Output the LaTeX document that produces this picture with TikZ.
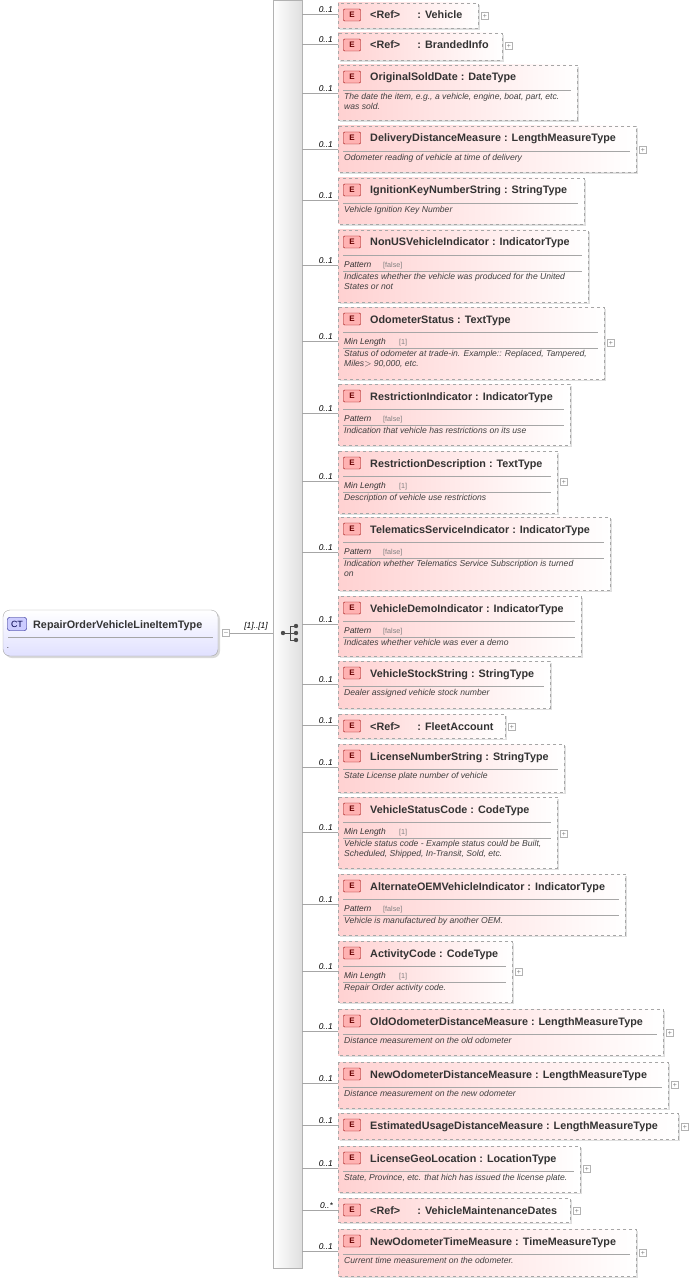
\documentclass[tikz,border=0pt]{standalone}
\usepackage{fontspec}
\setmainfont{Liberation Sans}
\begin{document}
\begin{tikzpicture}[x=1pt,y=-1pt,
  boxline/.style={draw=gray!70,dashed,line width=0.6pt},
  badge/.style={draw=red!60!black,fill=red!30,rounded corners=1pt,minimum width=17pt,minimum height=12pt,inner sep=0pt,font=\fontsize{8}{9}\selectfont\bfseries,text=red!40!black},
  ttl/.style={anchor=base west,font=\fontsize{10.8}{12}\selectfont\bfseries,text=black!80,inner sep=0pt},
  dsc/.style={anchor=north west,align=left,font=\fontsize{8.6}{10}\selectfont\itshape,text=black!75,inner sep=0pt},
  fct/.style={anchor=base west,font=\fontsize{8.4}{9}\selectfont\itshape,text=black!80,inner sep=0pt},
  fv/.style={anchor=base west,font=\fontsize{7.2}{8}\selectfont,text=gray,inner sep=0pt},
  card/.style={anchor=south east,font=\fontsize{8.4}{9}\selectfont\itshape,inner sep=1pt},
  conn/.style={draw=gray!70,line width=0.6pt},
  plusbox/.style={draw=gray!60,minimum size=7pt,inner sep=0pt,font=\fontsize{7}{7}\selectfont,text=gray}]
\useasboundingbox (0,0) rectangle (689,1281);
% sequence bar
\shade[left color=white,right color=gray!25] (273,0) rectangle (302,1268);
\draw[gray!60] (273,0) rectangle (302,1268);
\node[inner sep=0pt,minimum width=29pt,minimum height=1268pt,anchor=north west] (seq) at (273,0) {};
\coordinate (seqin) at (273,633);
\fill[black!70] (283,633) circle (2.2pt);
\draw[black!70,line width=0.9pt] (283,633)--(290,633) (290,626)--(290,640) (290,626)--(295,626) (290,640)--(295,640) (290,633)--(295,633);
\foreach \yy in {626,633,640} \fill[black!70] (296,\yy) circle (2.2pt);
% CT node
\fill[gray!30,rounded corners=7pt] (5,612) rectangle (220,658);
\shade[top color=white,bottom color=blue!12,rounded corners=7pt] (3,610) rectangle (218,656);
\draw[gray!70,rounded corners=7pt] (3,610) rectangle (218,656);
\node[inner sep=0pt,minimum width=215pt,minimum height=46pt,anchor=north west] (ct) at (3,610) {};
\node[draw=blue!50!black,fill=blue!20,rounded corners=2pt,minimum width=19pt,minimum height=13pt,inner sep=0pt,font=\fontsize{9}{9}\selectfont,text=blue!30!black] at (17,624) {CT};
\node[ttl] at (33,628) {RepairOrderVehicleLineItemType};
\draw[gray!70] (8,637)--(213,637);
\node[fct] at (7,648) {.};
\node[plusbox] (minus) at (226,633) {--};
\draw[conn] (minus.east) -- (seqin);
\node[card,anchor=south] at (256,631) {[1]..[1]};
% element macro
\newcommand\el[7]{%
 \def\T{#2}\def\R{#4}%
 \fill[gray!25] (340,#2+2) rectangle (#4+2,#3+2);
 \shade[left color=red!18,right color=white] (338,#2) rectangle (#4,#3);
 \draw[boxline] (338,#2) rectangle (#4,#3);
 \node[inner sep=0pt,minimum width=#4pt-338pt,minimum height=#3pt-#2pt,anchor=north west] (#1) at (338,#2) {};
 \node[badge] at (352,#2+12) {E};
 \node[ttl] at (370,#2+16) {#5};
 \coordinate (#1c) at (302,#6);
 \draw[conn] (#1c) -- (#1.west |- #1c);
 \node[card] at (334,#6) {#7};
}
\newcommand\sepl[1]{\draw[gray!70] (343,\T+#1)--(\R-6,\T+#1);}
\newcommand\pl[1]{\node[plusbox] at (\R+7,#1) {+};}
\newcommand\facetP{\sepl{25}\node[fct] at (344,\T+37) {Pattern}; \node[fv] at (383,\T+37) {[false]}; \sepl{41}}
\newcommand\facetM{\sepl{25}\node[fct] at (344,\T+37) {Min Length}; \node[fv] at (399,\T+37) {[1]}; \sepl{41}}
\newcommand\ds[2]{\node[dsc] at (344,\T+#1) {#2};}
\newcommand\rf{\textless Ref\textgreater\hspace{1.6em}}
%
\el{e1}{3}{28}{478}{\rf: Vehicle}{14}{0..1}\pl{16}
\el{e2}{33}{60}{502}{\rf: BrandedInfo}{44}{0..1}\pl{46}
\el{e3}{65}{120}{577}{OriginalSoldDate : DateType}{93}{0..1}\sepl{25}\ds{28}{The date the item, e.g., a vehicle, engine, boat, part, etc.\\was sold.}
\el{e4}{126}{172}{636}{DeliveryDistanceMeasure : LengthMeasureType}{149}{0..1}\sepl{25}\ds{28}{Odometer reading of vehicle at time of delivery}\pl{150}
\el{e5}{178}{224}{584}{IgnitionKeyNumberString : StringType}{200}{0..1}\sepl{25}\ds{28}{Vehicle Ignition Key Number}
\el{e6}{230}{302}{588}{NonUSVehicleIndicator : IndicatorType}{265}{0..1}\facetP\ds{43}{Indicates whether the vehicle was produced for the United\\States or not}
\el{e7}{307}{379}{604}{OdometerStatus : TextType}{341}{0..1}\facetM\ds{43}{Status of odometer at trade-in. Example:: Replaced, Tampered,\\Miles$>$ 90,000, etc.}\pl{343}
\el{e8}{384}{445}{570}{RestrictionIndicator : IndicatorType}{413}{0..1}\facetP\ds{43}{Indication that vehicle has restrictions on its use}
\el{e9}{451}{513}{557}{RestrictionDescription : TextType}{481}{0..1}\facetM\ds{43}{Description of vehicle use restrictions}\pl{482}
\el{e10}{517}{590}{610}{TelematicsServiceIndicator : IndicatorType}{552}{0..1}\facetP\ds{43}{Indication whether Telematics Service Subscription is turned\\on}
\el{e11}{596}{656}{581}{VehicleDemoIndicator : IndicatorType}{624}{0..1}\facetP\ds{43}{Indicates whether vehicle was ever a demo}
\el{e12}{661}{708}{550}{VehicleStockString : StringType}{684}{0..1}\sepl{25}\ds{28}{Dealer assigned vehicle stock number}
\el{e13}{714}{738}{505}{\rf: FleetAccount}{725}{0..1}\pl{727}
\el{e14}{744}{792}{564}{LicenseNumberString : StringType}{767}{0..1}\sepl{25}\ds{28}{State License plate number of vehicle}
\el{e15}{797}{868}{557}{VehicleStatusCode : CodeType}{832}{0..1}\facetM\ds{43}{Vehicle status code - Example status could be Built,\\Scheduled, Shipped, In-Transit, Sold, etc.}\pl{834}
\el{e16}{874}{935}{625}{AlternateOEMVehicleIndicator : IndicatorType}{904}{0..1}\facetP\ds{43}{Vehicle is manufactured by another OEM.}
\el{e17}{941}{1002}{512}{ActivityCode : CodeType}{971}{0..1}\facetM\ds{43}{Repair Order activity code.}\pl{972}
\el{e18}{1009}{1055}{663}{OldOdometerDistanceMeasure : LengthMeasureType}{1031}{0..1}\sepl{25}\ds{28}{Distance measurement on the old odometer}\pl{1033}
\el{e19}{1062}{1108}{668}{NewOdometerDistanceMeasure : LengthMeasureType}{1083}{0..1}\sepl{25}\ds{28}{Distance measurement on the new odometer}\pl{1085}
\el{e20}{1113}{1139}{678}{EstimatedUsageDistanceMeasure : LengthMeasureType}{1125}{0..1}\pl{1127}
\el{e21}{1146}{1192}{580}{LicenseGeoLocation : LocationType}{1168}{0..1}\sepl{25}\ds{28}{State, Province, etc. that hich has issued the license plate.}\pl{1169}
\el{e22}{1198}{1222}{570}{\rf: VehicleMaintenanceDates}{1210}{0..*}\pl{1211}
\el{e23}{1229}{1276}{636}{NewOdometerTimeMeasure : TimeMeasureType}{1251}{0..1}\sepl{25}\ds{28}{Current time measurement on the odometer.}\pl{1253}
\end{tikzpicture}
\end{document}
